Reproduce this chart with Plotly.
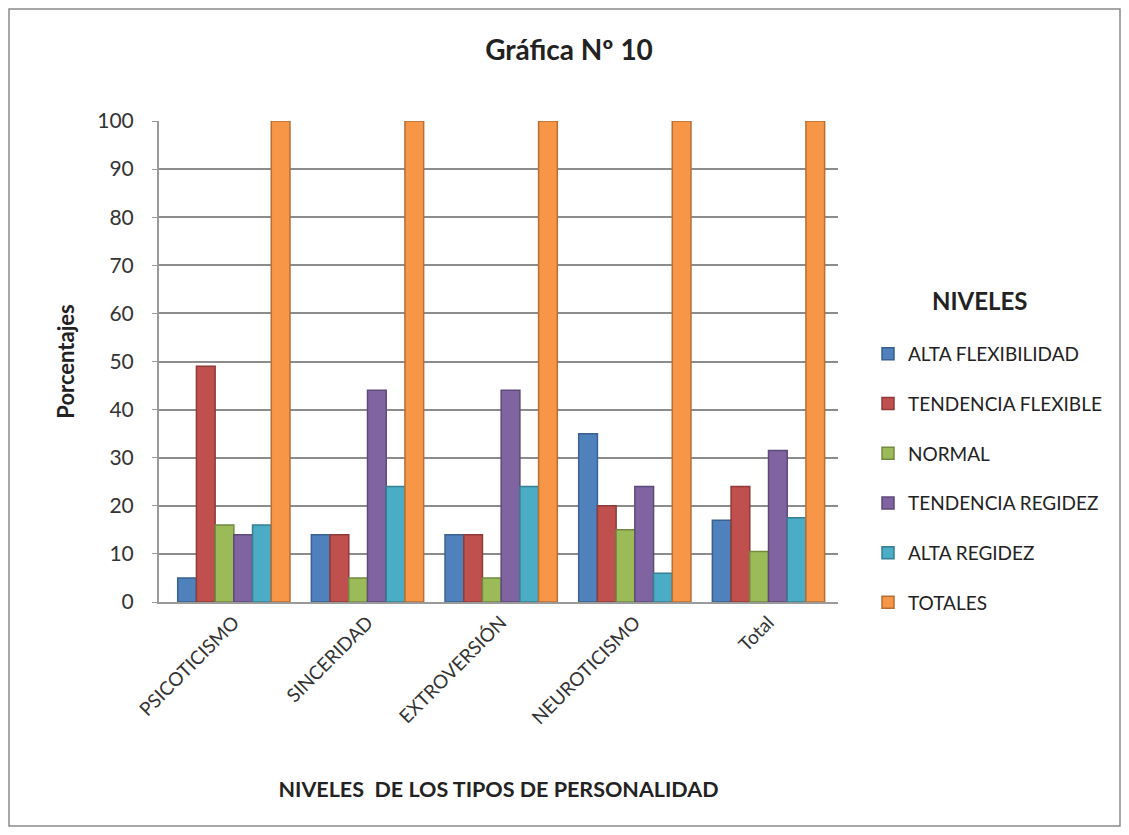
import plotly.graph_objects as go

categories = ["PSICOTICISMO", "SINCERIDAD", "EXTROVERSIÓN", "NEUROTICISMO", "Total"]
series_names = ["ALTA FLEXIBILIDAD", "TENDENCIA FLEXIBLE", "NORMAL",
                "TENDENCIA REGIDEZ", "ALTA REGIDEZ", "TOTALES"]
alta_flexibilidad = [5, 14, 14, 35, 17]
tendencia_flexible = [49, 14, 14, 20, 24]
normal = [16, 5, 5, 15, 10.5]
tendencia_regidez = [14, 44, 44, 24, 31.5]
alta_regidez = [16, 24, 24, 6, 17.5]
totales = [100, 100, 100, 100, 100]
y_ticks = list(range(0, 101, 10))

series_values = [alta_flexibilidad, tendencia_flexible, normal,
                 tendencia_regidez, alta_regidez, totales]
colors = ["#4F81BD", "#C0504D", "#9BBB59", "#8064A2", "#4BACC6", "#F79646"]
edges = ["#3A6190", "#8E3B39", "#728A42", "#5E4A78", "#377F92", "#B66F34"]

FONT = "Lato"
OFF = 8  # page body margin
W, H = 1129 - 2 * OFF, 835 - 2 * OFF
# plot area in page pixels
PX0, PX1, PY0, PY1 = 159, 838, 121, 602
L, T = PX0 - OFF, PY0 - OFF
R, B = W - (PX1 - OFF), H - (PY1 - OFF)

fig = go.Figure()
for name, vals, c, e in zip(series_names, series_values, colors, edges):
    fig.add_trace(go.Bar(
        x=categories, y=vals, name=name, legendgroup=name,
        marker=dict(color=c, line=dict(color=e, width=1.5)),
    ))

pw = W - L - R
ph = H - T - B
def px2x(p):
    return (p - OFF - L) / pw
def py2y(p):
    return 1 - (p - OFF - T) / ph

fig.update_layout(
    width=W, height=H,
    margin=dict(l=L, r=R, t=T, b=B),
    paper_bgcolor="white", plot_bgcolor="white",
    font=dict(family=FONT, color="#222222"),
    barmode="group", bargap=0.16, bargroupgap=0,
    title=dict(text="<b>Gráfica Nº 10</b>", x=px2x(569), xanchor="center", xref="paper",
               y=1 - (50 - OFF) / H, yanchor="middle", font=dict(size=28, family=FONT)),
    xaxis=dict(
        range=[-0.56, 4.52],
        tickangle=-45, tickfont=dict(size=19, family=FONT, color="#333"),
        showline=True, linecolor="#9a9a9a", linewidth=2,
        title=dict(text="<b>NIVELES  DE LOS TIPOS DE PERSONALIDAD</b>",
                   font=dict(size=21.5, family=FONT), standoff=55),
    ),
    yaxis=dict(
        range=[0, 100], tickvals=y_ticks, tickfont=dict(size=21, family=FONT, color="#333"),
        showgrid=True, gridcolor="#8c8c8c", gridwidth=1.5,
        showline=True, linecolor="#9a9a9a", linewidth=2,
        ticks="outside", tickcolor="#9a9a9a", ticklen=5,
        ticklabelstandoff=14,
        zeroline=False,
        title=dict(text="<b>Porcentajes</b>", font=dict(size=22, family=FONT), standoff=17),
    ),
    legend=dict(
        x=px2x(868), xanchor="left", y=py2y(335), yanchor="top",
        font=dict(size=19, family=FONT, color="#222"),
        tracegroupgap=22, itemwidth=30, traceorder="grouped",
    ),
    annotations=[dict(text="<b>NIVELES</b>", xref="paper", yref="paper",
                      x=px2x(980), y=py2y(300), xanchor="center", yanchor="middle",
                      showarrow=False, font=dict(size=24, family=FONT, color="#222"))],
    shapes=[dict(type="rect", xref="paper", yref="paper",
                 x0=px2x(9), x1=px2x(1120), y0=py2y(826), y1=py2y(9),
                 line=dict(color="#8a8a8a", width=1.5), fillcolor="rgba(0,0,0,0)", layer="below")],
)

fig.write_html("out.html")
